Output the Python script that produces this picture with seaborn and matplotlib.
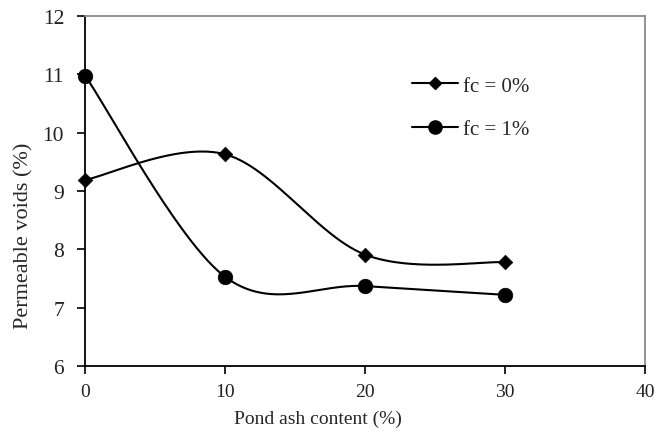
import numpy as np
import pandas as pd
import matplotlib
matplotlib.use("Agg")
import matplotlib.pyplot as plt
from matplotlib.lines import Line2D
import seaborn as sns

# Pond ash content (%) and permeable voids (%) for two fibre contents
pond_ash = [0, 10, 20, 30]
voids_fc0 = [9.19, 9.63, 7.91, 7.78]
voids_fc1 = [10.98, 7.53, 7.37, 7.22]
series_labels = ["fc = 0%", "fc = 1%"]
x_ticks = [0, 10, 20, 30, 40]
y_ticks = [6, 7, 8, 9, 10, 11, 12]


def smooth_curve(xs, ys, n=60):
    """Piecewise cubic Bezier through the points (Catmull-Rom style tangents)."""
    pts = np.column_stack([xs, ys]).astype(float)
    out = []
    for i in range(len(pts) - 1):
        p0 = pts[max(i - 1, 0)]
        p1 = pts[i]
        p2 = pts[i + 1]
        p3 = pts[min(i + 2, len(pts) - 1)]
        c1 = p1 + (p2 - p0) / 6.0
        c2 = p2 - (p3 - p1) / 6.0
        t = np.linspace(0, 1, n)[:, None]
        seg = ((1 - t) ** 3) * p1 + 3 * ((1 - t) ** 2) * t * c1 + 3 * (1 - t) * t ** 2 * c2 + t ** 3 * p2
        out.append(seg if i == 0 else seg[1:])
    seg = np.vstack(out)
    return seg[:, 0], seg[:, 1]


frames = []
for label, ys in zip(series_labels, [voids_fc0, voids_fc1]):
    sx, sy = smooth_curve(pond_ash, ys)
    frames.append(pd.DataFrame({"x": sx, "y": sy, "series": label}))
curves = pd.concat(frames, ignore_index=True)
points = pd.DataFrame({
    "x": pond_ash * 2,
    "y": voids_fc0 + voids_fc1,
    "series": [series_labels[0]] * 4 + [series_labels[1]] * 4,
})

sns.set_theme(style="white")
plt.rcParams["font.family"] = ["Liberation Serif", "DejaVu Serif"]

fig = plt.figure(figsize=(6.57, 4.35), dpi=100)
ax = fig.add_axes([85 / 657, 1 - 367 / 435, 560 / 657, 350 / 435])

for label in series_labels:
    sub = curves[curves["series"] == label]
    sns.lineplot(data=sub, x="x", y="y", sort=False, estimator=None, color="black",
                 linewidth=1.5, ax=ax, legend=False)

markers = {series_labels[0]: "D", series_labels[1]: "o"}
sizes = {series_labels[0]: 55, series_labels[1]: 110}
for label in series_labels:
    sub = points[points["series"] == label]
    sns.scatterplot(data=sub, x="x", y="y", marker=markers[label], s=sizes[label],
                    color="black", edgecolor="black", linewidth=0.5, ax=ax, legend=False,
                    zorder=3, clip_on=False)

ax.set_xlim(0, 40)
ax.set_ylim(6, 12)
ax.set_xticks(x_ticks)
ax.set_yticks(y_ticks)
ax.set_xlabel("Pond ash content (%)", fontsize=14)
ax.set_ylabel("Permeable voids (%)", fontsize=16)
ax.xaxis.set_label_coords(0.416, -0.125)
ax.yaxis.set_label_coords(-0.092, 0.374)
ax.tick_params(axis="both", direction="out", length=6, width=1.2, color="black",
               labelcolor="#222222", bottom=True, left=True)
ax.tick_params(axis="x", labelsize=14, pad=6)
ax.tick_params(axis="y", labelsize=15.5, pad=9)
ax.grid(False)

for side in ["left", "bottom"]:
    ax.spines[side].set_color("black")
    ax.spines[side].set_linewidth(1.3)
for side in ["top", "right"]:
    ax.spines[side].set_color("#8a8a8a")
    ax.spines[side].set_linewidth(1.3)

handles = [
    Line2D([], [], color="black", linewidth=1.5, marker="D", markersize=6),
    Line2D([], [], color="black", linewidth=1.5, marker="o", markersize=9.5),
]
ax.legend(handles, series_labels, loc="upper left", bbox_to_anchor=(412 / 657, 1 - 77 / 435),
          bbox_transform=fig.transFigure, frameon=False, fontsize=15, handlelength=2.2,
          handletextpad=0.25, labelspacing=1.15, borderpad=0, borderaxespad=0)

fig.savefig("out.png", dpi=100, facecolor="white")
